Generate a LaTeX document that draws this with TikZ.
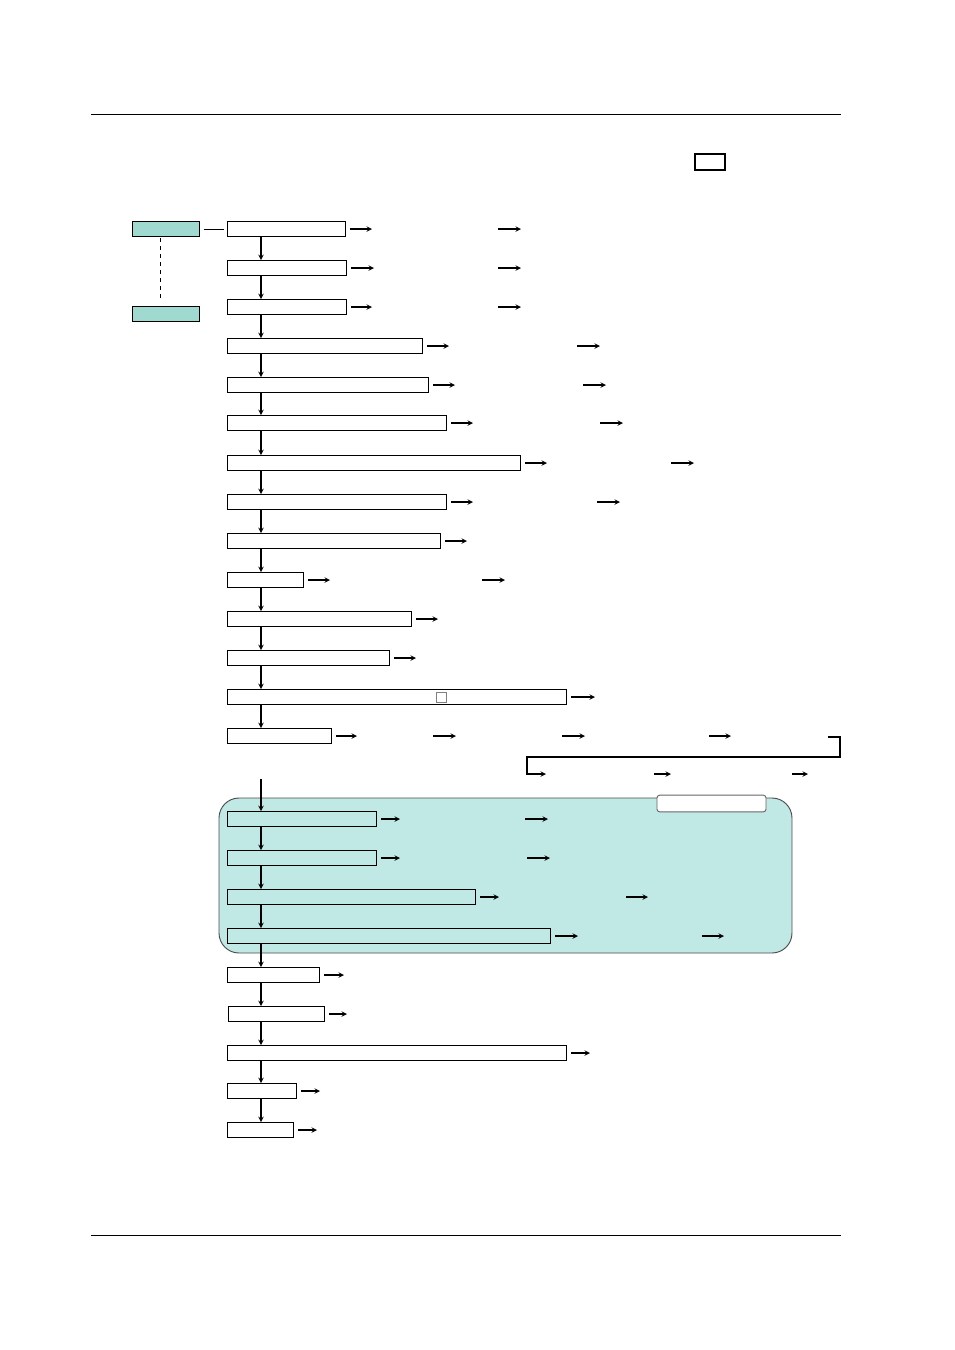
\documentclass[tikz,border=0pt]{standalone}
\definecolor{tealbox}{HTML}{9FD9D0}
\definecolor{tealarea}{HTML}{C0E8E4}
\begin{document}
\begin{tikzpicture}[
    x=0.75pt, y=-0.75pt,
    box/.style={rectangle, draw=black, line width=0.9pt, anchor=west, inner sep=0pt, minimum height=11pt},
    tag/.style={box, fill=tealbox, minimum width=50pt},
    arrow/.style={line width=0.8pt, ->, >=stealth},
    lead/.style={arrow, shorten <=3pt}
]
\useasboundingbox (0,0) rectangle (954,1350);

% Rules
\draw[line width=0.6pt] (91,114) -- (841,114);
\draw[line width=0.6pt] (91,1235) -- (841,1235);
\node (key) [box, anchor=center, minimum width=22.5pt, minimum height=12pt] at (710,162) {};

% Shaded group
\filldraw[fill=tealarea, draw=black!70, line width=0.7pt, rounded corners=15pt] (219,798) rectangle (792,953);
\node (grouptab) [rectangle, draw=black!60, fill=white, rounded corners=2pt, line width=0.7pt, minimum width=81.75pt, minimum height=12.5pt] at (711.5,803.5) {};

% Left tags
\node (tagtop) [tag] at (132,229) {};
\node (tagbot) [tag] at (132,314) {};
\draw[line width=0.7pt] (tagtop.east) ++(3pt,0) -- ++(20,0);
\draw[dashed, line width=0.6pt] (160,238) -- (160,300);

% Boxes
\node (b1) [box, minimum width=88.5pt] at (227,229) {};
\node (b2) [box, minimum width=89.25pt] at (227,268) {};
\node (b3) [box, minimum width=89.25pt] at (227,307) {};
\node (b4) [box, minimum width=146.25pt] at (227,346) {};
\node (b5) [box, minimum width=150.75pt] at (227,385) {};
\node (b6) [box, minimum width=164.25pt] at (227,423) {};
\node (b7) [box, minimum width=219.75pt] at (227,463) {};
\node (b8) [box, minimum width=164.25pt] at (227,502) {};
\node (b9) [box, minimum width=159.75pt] at (227,541) {};
\node (b10) [box, minimum width=57pt] at (227,580) {};
\node (b11) [box, minimum width=138pt] at (227,619) {};
\node (b12) [box, minimum width=121.5pt] at (227,658) {};
\node (b13) [box, minimum width=254.25pt] at (227,697) {};
\node (b14) [box, minimum width=78pt] at (227,736) {};
\node (b15) [box, minimum width=111.75pt] at (227,819) {};
\node (b16) [box, minimum width=111.75pt] at (227,858) {};
\node (b17) [box, minimum width=186pt] at (227,897) {};
\node (b18) [box, minimum width=242.25pt] at (227,936) {};
\node (b19) [box, minimum width=69pt] at (227,975) {};
\node (b20) [box, minimum width=72pt] at (228,1014) {};
\node (b21) [box, minimum width=254.25pt] at (227,1053) {};
\node (b22) [box, minimum width=51.75pt] at (227,1091) {};
\node (b23) [box, minimum width=49.5pt] at (227,1130) {};
\node (mark) [rectangle, draw=black!50, line width=0.5pt, inner sep=0pt, minimum size=7.5pt] at (441,697) {};

% Main column
\coordinate (col) at (261,0);
\coordinate (resume) at (261,779);
\foreach \a/\b in {b1/b2, b2/b3, b3/b4, b4/b5, b5/b6, b6/b7, b7/b8, b8/b9, b9/b10,
    b10/b11, b11/b12, b12/b13, b13/b14, b15/b16, b16/b17, b17/b18, b18/b19,
    b19/b20, b20/b21, b21/b22, b22/b23}
    \draw[arrow] (\a.south -| col) -- (\b.north -| col);
\draw[arrow] (resume) -- (b15.north -| col);

% Free ends
\coordinate (e1) at (372,229);  \coordinate (f1) at (498,229);  \coordinate (g1) at (521,229);
\coordinate (e2) at (374,268);  \coordinate (f2) at (498,268);  \coordinate (g2) at (521,268);
\coordinate (e3) at (372,307);  \coordinate (f3) at (498,307);  \coordinate (g3) at (521,307);
\coordinate (e4) at (449,346);  \coordinate (f4) at (577,346);  \coordinate (g4) at (600,346);
\coordinate (e5) at (455,385);  \coordinate (f5) at (583,385);  \coordinate (g5) at (606,385);
\coordinate (e6) at (473,423);  \coordinate (f6) at (600,423);  \coordinate (g6) at (623,423);
\coordinate (e7) at (547,463);  \coordinate (f7) at (671,463);  \coordinate (g7) at (694,463);
\coordinate (e8) at (473,502);  \coordinate (f8) at (597,502);  \coordinate (g8) at (620,502);
\coordinate (e9) at (467,541);
\coordinate (e10) at (330,580); \coordinate (f10) at (482,580); \coordinate (g10) at (505,580);
\coordinate (e11) at (438,619);
\coordinate (e12) at (416,658);
\coordinate (e13) at (595,697);
\coordinate (e14) at (357,736);
\coordinate (e15) at (400,819); \coordinate (f15) at (525,819); \coordinate (g15) at (548,819);
\coordinate (e16) at (400,858); \coordinate (f16) at (527,858); \coordinate (g16) at (550,858);
\coordinate (e17) at (499,897); \coordinate (f17) at (626,897); \coordinate (g17) at (648,897);
\coordinate (e18) at (578,936); \coordinate (f18) at (702,936); \coordinate (g18) at (724,936);
\coordinate (e19) at (344,975);
\coordinate (e20) at (347,1014);
\coordinate (e21) at (590,1053);
\coordinate (e22) at (320,1091);
\coordinate (e23) at (317,1130);

% Arrows
\foreach \i in {1,...,23}
    \draw[lead] (b\i) -- (e\i);
\foreach \i in {1,2,3,4,5,6,7,8,10,15,16,17,18}
    \draw[arrow] (f\i) -- (g\i);

% Long row
\coordinate (h1) at (433,736); \coordinate (h2) at (456,736);
\coordinate (h3) at (562,736); \coordinate (h4) at (585,736);
\coordinate (h5) at (709,736); \coordinate (h6) at (731,736);
\coordinate (wrap) at (828,737);
\coordinate (wrapend) at (546,774);
\coordinate (k1) at (654,774); \coordinate (k2) at (671,774);
\coordinate (k3) at (792,774); \coordinate (k4) at (808,774);
\draw[arrow] (h1) -- (h2);
\draw[arrow] (h3) -- (h4);
\draw[arrow] (h5) -- (h6);
\draw[arrow] (wrap) -| (840,757) -| (527,774) -- (wrapend);
\draw[arrow] (k1) -- (k2);
\draw[arrow] (k3) -- (k4);

\end{tikzpicture}
\end{document}
